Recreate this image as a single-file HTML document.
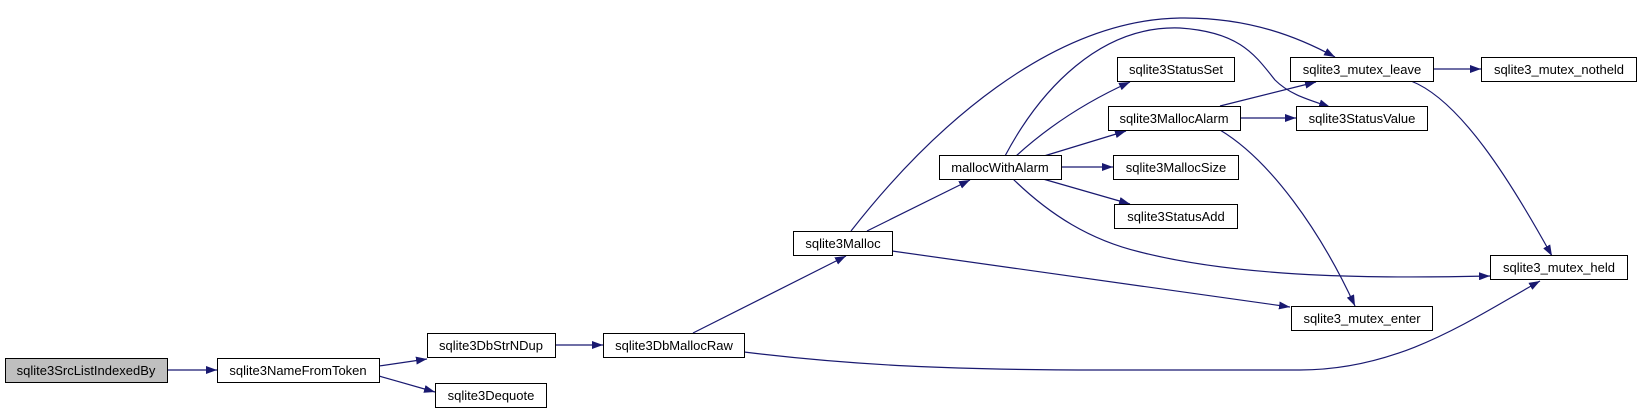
<!DOCTYPE html>
<html><head><meta charset="utf-8"><style>
html,body{margin:0;padding:0;background:#fff;}
svg{display:block;}
text{font-family:"Liberation Sans",Arial,sans-serif;font-size:13px;fill:#000;}
</style></head><body>
<svg width="1641" height="411" viewBox="0 0 1641 411" xmlns="http://www.w3.org/2000/svg">
<defs>
<marker id="a" markerWidth="11" markerHeight="8" refX="11" refY="4" orient="auto" markerUnits="userSpaceOnUse">
<polygon points="0,0 11,4 0,8" fill="#191970"/>
</marker>
</defs>
<g fill="none" stroke="#191970" stroke-width="1.2" marker-end="url(#a)">
<path d="M168,370 L217,370"/>
<path d="M379,366 L427,359"/>
<path d="M379,376 L435,392"/>
<path d="M555,345 L603,345"/>
<path d="M693,333 L846,256"/>
<path d="M744,352 C850,365 950,370 1100,370 L1300,370 C1400,370 1470,320 1540,281"/>
<path d="M851,231 C930,130 1050,20 1180,18 C1250,17 1300,38 1335,57"/>
<path d="M867,231 L970,180"/>
<path d="M892,251 L1290,307"/>
<path d="M1005,156 C1040,90 1100,25 1180,28 C1240,32 1255,55 1275,80 C1290,95 1310,100 1330,107"/>
<path d="M1016,156 C1050,125 1090,100 1130,82"/>
<path d="M1044,156 L1126,131"/>
<path d="M1061,167 L1113,167"/>
<path d="M1043,179 L1130,204"/>
<path d="M1013,179 C1050,215 1090,240 1140,252 C1250,280 1400,278 1490,276"/>
<path d="M1220,106 L1316,82"/>
<path d="M1240,118 L1296,118"/>
<path d="M1220,130 C1270,160 1320,230 1355,306"/>
<path d="M1431,69 L1481,69"/>
<path d="M1411,81 C1460,100 1510,180 1552,256"/>
</g>
<g stroke="#000" stroke-width="1" fill="#fff">
<rect x="5.5" y="358.5" width="162" height="24" fill="#bfbfbf"/>
<rect x="217.5" y="358.5" width="162" height="24"/>
<rect x="427.5" y="333.5" width="128" height="24"/>
<rect x="435.5" y="383.5" width="111" height="24"/>
<rect x="603.5" y="333.5" width="141" height="24"/>
<rect x="793.5" y="231.5" width="99" height="24"/>
<rect x="939.5" y="155.5" width="122" height="24"/>
<rect x="1117.5" y="57.5" width="117" height="24"/>
<rect x="1108.5" y="106.5" width="132" height="24"/>
<rect x="1113.5" y="155.5" width="125" height="24"/>
<rect x="1114.5" y="204.5" width="123" height="24"/>
<rect x="1290.5" y="57.5" width="143" height="24"/>
<rect x="1296.5" y="106.5" width="131" height="24"/>
<rect x="1481.5" y="57.5" width="155" height="24"/>
<rect x="1490.5" y="255.5" width="137" height="24"/>
<rect x="1291.5" y="306.5" width="141" height="24"/>
</g>
<g text-anchor="middle">
<text x="86" y="375">sqlite3SrcListIndexedBy</text>
<text x="298" y="375">sqlite3NameFromToken</text>
<text x="491" y="350">sqlite3DbStrNDup</text>
<text x="491" y="400">sqlite3Dequote</text>
<text x="674" y="350">sqlite3DbMallocRaw</text>
<text x="843" y="248">sqlite3Malloc</text>
<text x="1000" y="172">mallocWithAlarm</text>
<text x="1176" y="74">sqlite3StatusSet</text>
<text x="1174" y="123">sqlite3MallocAlarm</text>
<text x="1176" y="172">sqlite3MallocSize</text>
<text x="1176" y="221">sqlite3StatusAdd</text>
<text x="1362" y="74">sqlite3_mutex_leave</text>
<text x="1362" y="123">sqlite3StatusValue</text>
<text x="1559" y="74">sqlite3_mutex_notheld</text>
<text x="1559" y="272">sqlite3_mutex_held</text>
<text x="1362" y="323">sqlite3_mutex_enter</text>
</g>
</svg>
</body></html>
